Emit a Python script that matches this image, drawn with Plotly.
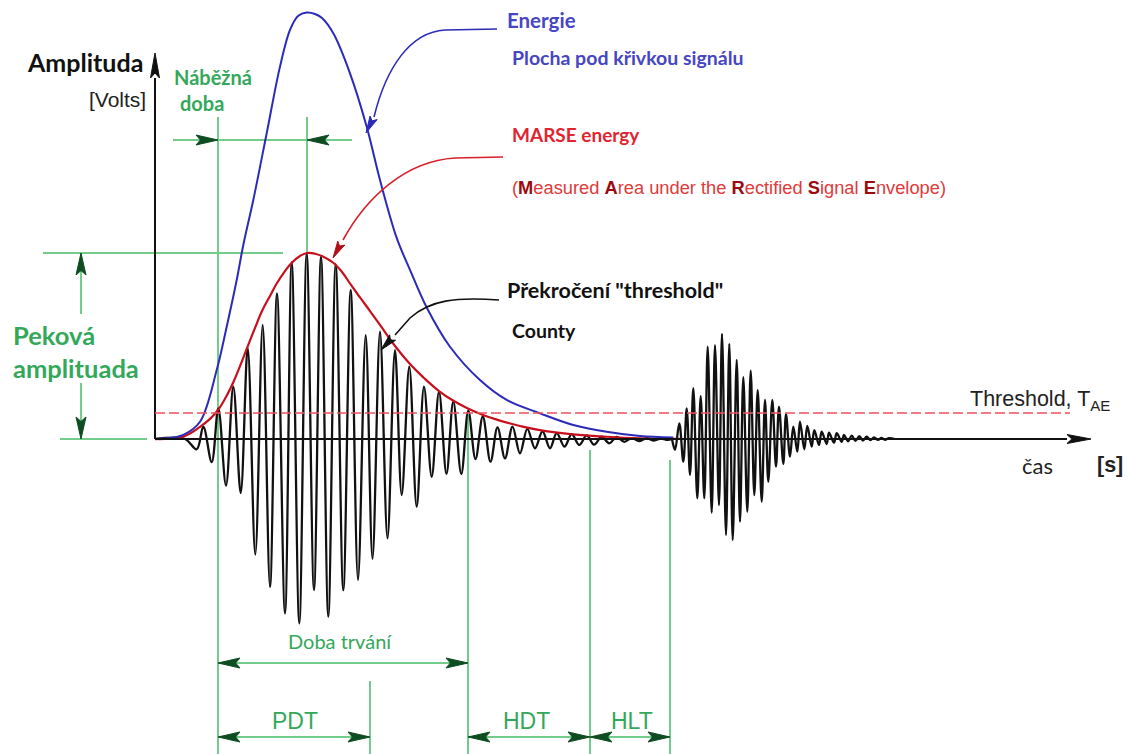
import plotly.graph_objects as go

# ---------------------------------------------------------------------------
# Acoustic-emission hit: time in µs, amplitude in V (alternating extrema)
# ---------------------------------------------------------------------------
hit1_t = [0.00, 3.00, 4.17, 4.83, 5.67, 6.33, 7.10, 7.83, 8.57, 9.27, 10.03, 10.77,
          11.50, 12.20, 13.00, 13.67, 14.43, 15.17, 15.90, 16.60, 17.33, 18.07, 18.83,
          19.57, 20.30, 21.07, 21.75, 22.50, 23.25, 24.00, 24.67, 25.43, 26.17, 26.90,
          27.67, 28.40, 29.15, 29.83, 30.63, 31.33, 32.05, 32.78, 33.55, 34.25, 35.00,
          35.75, 36.50, 37.23, 38.00, 38.75, 39.50, 40.17, 40.95, 41.67, 42.43, 43.17,
          43.90, 44.67, 45.43, 46.17, 46.93, 47.67, 48.40, 49.15, 49.90, 50.60, 51.30,
          51.70]
hit1_v = [0.000, 0.000, -0.055, 0.066, -0.124, 0.165, -0.250, 0.281, -0.290, 0.490,
          -0.621, 0.613, -0.796, 0.783, -0.937, 0.950, -0.991, 0.998, -0.812, 0.980,
          -0.955, 0.940, -0.813, 0.801, -0.758, 0.559, -0.644, 0.577, -0.534, 0.478,
          -0.301, 0.389, -0.364, 0.281, -0.203, 0.254, -0.188, 0.201, -0.188, 0.153,
          -0.108, 0.121, -0.122, 0.062, -0.104, 0.067, -0.077, 0.054, -0.050, 0.041,
          -0.050, 0.032, -0.041, 0.026, -0.032, 0.019, -0.030, 0.012, -0.023, 0.011,
          -0.015, 0.005, -0.011, 0.004, -0.008, 0.002, -0.005, 0.000]

# Second (following) hit
hit2_t = [51.70, 52.00, 52.43, 52.83, 53.17, 53.50, 53.83, 54.23, 54.57, 54.93, 55.27,
          55.67, 56.00, 56.40, 56.70, 57.10, 57.43, 57.77, 58.17, 58.50, 58.83, 59.23,
          59.57, 59.93, 60.27, 60.67, 61.00, 61.33, 61.73, 62.10, 62.40, 62.83, 63.10,
          63.50, 63.83, 64.23, 64.50, 64.93, 65.23, 65.67, 65.93, 66.40, 66.67, 67.17,
          67.40, 67.90, 68.17, 68.67, 68.90, 69.30, 69.67, 70.05, 70.43, 70.80, 71.17,
          71.55, 71.90, 72.30, 72.65, 73.00, 73.40, 74.00]
hit2_v = [0.000, -0.059, 0.084, -0.122, 0.165, -0.194, 0.273, -0.319, 0.231, -0.319,
          0.496, -0.396, 0.505, -0.355, 0.565, -0.516, 0.511, -0.543, 0.425, -0.445,
          0.332, -0.391, 0.367, -0.301, 0.263, -0.337, 0.210, -0.230, 0.210, -0.149,
          0.174, -0.134, 0.134, -0.095, 0.066, -0.068, 0.093, -0.055, 0.070, -0.041,
          0.048, -0.032, 0.039, -0.027, 0.034, -0.020, 0.031, -0.015, 0.022, -0.012,
          0.018, -0.010, 0.015, -0.008, 0.012, -0.006, 0.009, -0.005, 0.006, -0.004,
          0.004, 0.000]

# Rectified signal envelope (MARSE)
env_t = [0.0, 1.5, 3.0, 4.5, 5.5, 6.3, 7.1, 7.8, 8.5, 9.2, 10.0, 10.7, 11.5, 12.2, 13.0,
         13.7, 14.5, 15.2, 16.0, 16.8, 17.8, 18.7, 19.6, 20.5, 21.5, 22.5, 24.0, 25.5,
         26.9, 28.4, 29.8, 31.3, 32.8, 34.5, 36.5, 38.5, 41.8, 45.2, 48.5, 52.5]
env_v = [0.000, 0.002, 0.016, 0.065, 0.108, 0.156, 0.226, 0.301, 0.392, 0.489, 0.597,
         0.688, 0.769, 0.839, 0.903, 0.949, 0.984, 1.000, 0.996, 0.981, 0.949, 0.898,
         0.828, 0.761, 0.688, 0.613, 0.500, 0.403, 0.328, 0.258, 0.207, 0.164, 0.129,
         0.099, 0.070, 0.048, 0.025, 0.012, 0.004, 0.001]

# Signal energy curve
energy_t = [0.0, 1.5, 2.83, 4.5, 6.17, 7.17, 8.17, 8.83, 9.83, 11.17, 12.5, 13.5, 14.3,
            15.17, 16.0, 16.7, 17.83, 19.5, 21.17, 22.5, 24.17, 25.5, 27.17, 29.5, 32.5,
            35.17, 38.5, 41.83, 45.17, 48.5, 51.83]
energy_v = [0.000, 0.005, 0.022, 0.093, 0.371, 0.604, 0.855, 1.043, 1.285, 1.644, 2.002,
            2.199, 2.274, 2.293, 2.285, 2.263, 2.181, 1.966, 1.679, 1.392, 1.081, 0.909,
            0.707, 0.496, 0.317, 0.210, 0.138, 0.075, 0.039, 0.016, 0.008]

THRESHOLD = 0.14          # V
T_FIRST_CROSS = 6.3       # µs, first threshold crossing
T_PEAK = 15.2             # µs, peak amplitude
T_PDT = 21.5              # µs, peak definition time
T_LAST_CROSS = 31.3       # µs, last threshold crossing
T_HDT = 43.5              # µs, hit definition time
T_HLT = 51.5              # µs, hit lockout time
T_AXIS_END = 93.6         # µs, end of time axis
PEAK_AMPLITUDE = max(env_v)

# ---------------------------------------------------------------------------
# Canvas geometry
# ---------------------------------------------------------------------------
W, H = 1128, 754
X0, SX = 155.0, 10.0      # pixel column of t = 0, pixels per µs
Y0, SY = 439.0, 186.0     # pixel row of 0 V, pixels per V


def tx(t):
    return X0 + SX * t


def vy(v):
    return Y0 - SY * v


def P(x, y):
    return x / W, 1 - y / H


GREEN_LINE = "#74cc8c"
GREEN_HEAD = "#0e4d22"
GREEN_TEXT = "#34a85a"
BLUE = "#2b2bb8"
RED = "#c8101c"

shapes = []
annotations = []


def seg(x0, y0, x1, y1, color, width=2, layer="above", dash=None):
    a, b = P(x0, y0)
    c, d = P(x1, y1)
    line = dict(color=color, width=width)
    if dash:
        line["dash"] = dash
    shapes.append(dict(type="line", xref="paper", yref="paper", x0=a, y0=b, x1=c, y1=d,
                       line=line, layer=layer))


def head(tip, toward, color, length=22, half=5):
    (x, y), (ux, uy) = tip, toward
    norm = ((ux - x) ** 2 + (uy - y) ** 2) ** 0.5
    dx, dy = (ux - x) / norm, (uy - y) / norm
    nx, ny = -dy, dx
    pts = [(x, y),
           (x + length * dx + half * nx, y + length * dy + half * ny),
           (x + 0.8 * length * dx, y + 0.8 * length * dy),
           (x + length * dx - half * nx, y + length * dy - half * ny)]
    path = "M " + " L ".join("%.5f,%.5f" % P(px, py) for px, py in pts) + " Z"
    shapes.append(dict(type="path", xref="paper", yref="paper", path=path,
                       fillcolor=color, line=dict(color=color, width=1), layer="above"))


def curve(cmds, color, width=1.6):
    parts = []
    for c in cmds:
        op, coords = c[0], c[1:]
        pts = [P(coords[i], coords[i + 1]) for i in range(0, len(coords), 2)]
        parts.append(op + " " + " ".join("%.5f,%.5f" % p for p in pts))
    shapes.append(dict(type="path", xref="paper", yref="paper", path=" ".join(parts),
                       line=dict(color=color, width=width), layer="above"))


def label(text, x, y, size, color, family="Lato", bold=False, anchor="left"):
    if bold:
        text = "<b>" + text + "</b>"
    a, b = P(x, y)
    annotations.append(dict(text=text, x=a, y=b, xref="paper", yref="paper",
                            xanchor=anchor, yanchor="middle", showarrow=False,
                            font=dict(size=size, color=color, family=family)))


# --- coordinate axes with arrows
seg(tx(0), vy(0), tx(0), 78, "#111111", 2)
head((tx(0), 53), (tx(0), 80), "#111111", 25, 4.5)
seg(tx(0), vy(0), tx(T_AXIS_END) - 24, vy(0), "#111111", 2)
head((tx(T_AXIS_END), vy(0)), (tx(T_AXIS_END) - 26, vy(0)), "#111111", 24, 4.5)

# --- threshold
seg(tx(0), vy(THRESHOLD), 1070, vy(THRESHOLD), "#f0505e", 1.6, dash="10px,4px")

# --- rise time (Náběžná doba)
seg(tx(T_FIRST_CROSS), 117, tx(T_FIRST_CROSS), H, GREEN_LINE, 2, "below")
seg(tx(T_PEAK), 117, tx(T_PEAK), vy(PEAK_AMPLITUDE), GREEN_LINE, 2, "below")
seg(173, 140, 352, 140, GREEN_LINE, 2, "below")
head((tx(T_FIRST_CROSS), 140), (tx(T_FIRST_CROSS) - 30, 140), GREEN_HEAD)
head((tx(T_PEAK), 140), (tx(T_PEAK) + 30, 140), GREEN_HEAD)

# --- peak amplitude
seg(43, vy(PEAK_AMPLITUDE), 283, vy(PEAK_AMPLITUDE), GREEN_LINE, 2, "below")
seg(60, vy(0), 147, vy(0), GREEN_LINE, 2, "below")
seg(81, vy(PEAK_AMPLITUDE), 81, 314, GREEN_LINE, 2, "below")
seg(81, 383, 81, vy(0), GREEN_LINE, 2, "below")
head((81, vy(PEAK_AMPLITUDE)), (81, vy(PEAK_AMPLITUDE) + 30), GREEN_HEAD)
head((81, vy(0)), (81, vy(0) - 30), GREEN_HEAD)

# --- duration, PDT, HDT, HLT
seg(tx(T_LAST_CROSS), vy(THRESHOLD) + 2, tx(T_LAST_CROSS), H, GREEN_LINE, 2, "below")
seg(tx(T_PDT), 681, tx(T_PDT), H, GREEN_LINE, 2, "below")
seg(tx(T_HDT), 450, tx(T_HDT), H, GREEN_LINE, 2, "below")
seg(tx(T_HLT), 460, tx(T_HLT), H, GREEN_LINE, 2, "below")

dims = [(T_FIRST_CROSS, T_LAST_CROSS, 663),
        (T_FIRST_CROSS, T_PDT, 737),
        (T_LAST_CROSS, T_HDT, 737),
        (T_HDT, T_HLT, 737)]
for t0, t1, yy in dims:
    seg(tx(t0), yy, tx(t1), yy, GREEN_LINE, 2, "below")
    head((tx(t0), yy), (tx(t0) + 30, yy), GREEN_HEAD)
    head((tx(t1), yy), (tx(t1) - 30, yy), GREEN_HEAD)

# --- leader lines for the callouts
curve([("M", 497, 29), ("L", 445, 30), ("C", 410, 32, 386, 68, 374, 117)], BLUE, 1.6)
head((366, 133), (374, 117), BLUE, 17, 4)
curve([("M", 503, 157), ("L", 455, 158), ("C", 405, 161, 366, 198, 343, 240)], "#d8202a", 1.6)
head((333, 258), (343, 240), "#b01018", 17, 4)
curve([("M", 499, 300), ("C", 455, 297, 430, 300, 410, 318), ("L", 395, 335)], "#111111", 1.6)
head((381, 350), (395, 335), "#111111", 17, 4)

# --- text
label("Amplituda", 25, 62, 25, "#111111", bold=True)
label("[Volts]", 148, 100, 21, "#222222", family="Liberation Sans", anchor="right")
label("Náběžná", 172, 77, 20, GREEN_TEXT, bold=True)
label("doba", 178, 103, 20, GREEN_TEXT, bold=True)
label("Peková", 11, 335, 25.5, GREEN_TEXT, bold=True)
label("amplituada", 11, 368, 25.5, GREEN_TEXT, bold=True)
label("Energie", 505, 20, 20.5, "#4646c4", bold=True)
label("Plocha pod křivkou signálu", 510, 58, 19.5, "#4646c4", bold=True)
label("MARSE energy", 510, 135, 19, "#e22430", bold=True)
dark = "<span style='color:#9a0a10'><b>%s</b></span>"
label("(" + dark % "M" + "easured " + dark % "A" + "rea under the " + dark % "R" +
      "ectified " + dark % "S" + "ignal " + dark % "E" + "nvelope)",
      510, 187, 18.3, "#e03a3a", family="Liberation Sans")
label("Překročení \"threshold\"", 505, 290, 21.5, "#111111", bold=True)
label("County", 510, 330, 19.5, "#111111", bold=True)
label("Threshold, T<sub>AE</sub>", 968, 400, 21.5, "#222222", family="Liberation Sans")
label("čas", 1020, 465, 22, "#222222")
label("[s]", 1095, 465, 21.5, "#222222", family="Liberation Sans", bold=True)
label("Doba trvání", 340, 641, 20, GREEN_TEXT, anchor="center")
label("PDT", 295, 721, 23, GREEN_TEXT, family="Liberation Sans", anchor="center")
label("HDT", 526, 721, 23, GREEN_TEXT, family="Liberation Sans", anchor="center")
label("HLT", 632, 721, 23, GREEN_TEXT, family="Liberation Sans", anchor="center")

# ---------------------------------------------------------------------------
# Traces
# ---------------------------------------------------------------------------
fig = go.Figure()
fig.add_trace(go.Scatter(x=hit1_t + hit2_t, y=hit1_v + hit2_v, mode="lines",
                         line=dict(color="#111111", width=2.3, shape="spline", smoothing=1.0),
                         hoverinfo="skip"))
fig.add_trace(go.Scatter(x=env_t, y=env_v, mode="lines",
                         line=dict(color=RED, width=2.2, shape="spline", smoothing=1.3),
                         hoverinfo="skip"))
fig.add_trace(go.Scatter(x=energy_t, y=energy_v, mode="lines",
                         line=dict(color=BLUE, width=2, shape="spline", smoothing=1.0),
                         hoverinfo="skip"))

fig.update_layout(
    width=W, height=H, autosize=False,
    margin=dict(l=0, r=0, t=0, b=0),
    paper_bgcolor="white", plot_bgcolor="white",
    showlegend=False,
    xaxis=dict(range=[(0 - X0) / SX, (W - X0) / SX], visible=False, fixedrange=True),
    yaxis=dict(range=[(Y0 - H) / SY, Y0 / SY], visible=False, fixedrange=True),
    shapes=shapes, annotations=annotations,
)

fig.write_html("out.html")
